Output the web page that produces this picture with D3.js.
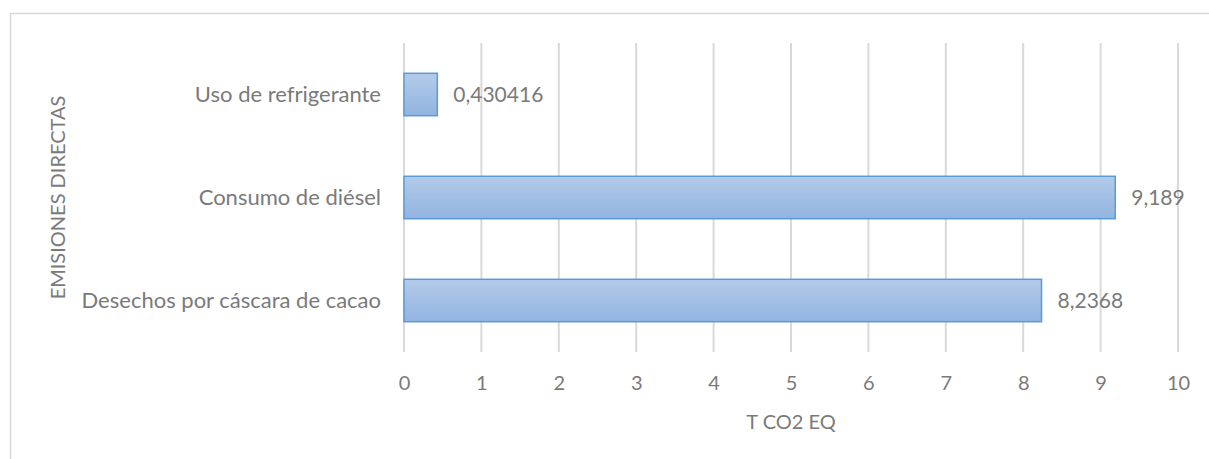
<!DOCTYPE html>
<html>
<head>
<meta charset="utf-8">
<script src="https://cdn.jsdelivr.net/npm/d3@7"></script>
<style>
  html, body { margin: 0; padding: 0; background: #fff; }
  svg { display: block; }
  text { font-family: Lato, "Open Sans", sans-serif; fill: #7a7a7a; }
</style>
</head>
<body>
<svg id="chart" width="1209" height="459"></svg>
<script>
// Direct emissions by source (t CO2 eq)
const categories = ["Uso de refrigerante", "Consumo de diésel", "Desechos por cáscara de cacao"];
const values = [0.430416, 9.189, 8.2368];
const valueLabels = ["0,430416", "9,189", "8,2368"];
const xTicks = [0, 1, 2, 3, 4, 5, 6, 7, 8, 9, 10];
const xTitle = "T CO2 EQ";
const yTitle = "EMISIONES DIRECTAS";

const svg = d3.select("#chart");
const W = 1209, H = 459;
const plot = { left: 404, right: 1178, top: 43, bottom: 352 };
const textColor = "#7a7a7a";

// chart frame
svg.append("path")
  .attr("d", `M${W + 5},13.5 H10.5 V${H + 5}`)
  .attr("fill", "none")
  .attr("stroke", "#d9d9d9")
  .attr("stroke-width", 1.5);

const x = d3.scaleLinear().domain([0, 10]).range([plot.left, plot.right]);
const y = d3.scaleBand().domain(categories)
  .range([plot.top, plot.bottom])
  .paddingInner(0.588).paddingOuter(0.294);

// bar fill gradient
const defs = svg.append("defs");
const grad = defs.append("linearGradient").attr("id", "barGrad")
  .attr("x1", 0).attr("y1", 0).attr("x2", 0).attr("y2", 1);
grad.append("stop").attr("offset", "0%").attr("stop-color", "#b3cbe9");
grad.append("stop").attr("offset", "100%").attr("stop-color", "#92b4e1");

// vertical gridlines
svg.append("g").selectAll("line").data(xTicks).join("line")
  .attr("x1", d => x(d)).attr("x2", d => x(d))
  .attr("y1", plot.top).attr("y2", plot.bottom)
  .attr("stroke", "#d9d9d9").attr("stroke-width", 2);

// x axis tick labels
const xAxis = d3.axisBottom(x).tickValues(xTicks).tickSize(0).tickPadding(0)
  .tickFormat(d => String(d));
const gx = svg.append("g").attr("transform", `translate(0,${plot.bottom})`).call(xAxis);
gx.select(".domain").remove();
gx.selectAll("text")
  .attr("y", 31).attr("dy", "0.35em")
  .style("font-size", "20px")
  .style("font-family", "Lato, 'Open Sans', sans-serif")
  .attr("fill", textColor);

// category labels
const yAxis = d3.axisLeft(y).tickSize(0).tickPadding(23);
const gy = svg.append("g").attr("transform", `translate(${plot.left},0)`).call(yAxis);
gy.select(".domain").remove();
gy.selectAll("text")
  .style("font-size", "22px")
  .style("font-family", "Lato, 'Open Sans', sans-serif")
  .attr("fill", textColor);

// bars
svg.append("g").selectAll("rect").data(values).join("rect")
  .attr("x", x(0))
  .attr("y", (d, i) => y(categories[i]))
  .attr("width", d => x(d) - x(0))
  .attr("height", y.bandwidth())
  .attr("fill", "url(#barGrad)")
  .attr("stroke", "#5b9bd5")
  .attr("stroke-width", 1.5);

// value labels
svg.append("g").selectAll("text").data(values).join("text")
  .attr("x", d => x(d) + 16)
  .attr("y", (d, i) => y(categories[i]) + y.bandwidth() / 2)
  .attr("dy", "0.35em")
  .style("font-size", "21px")
  .text((d, i) => valueLabels[i]);

// axis titles
svg.append("text")
  .attr("x", (plot.left + plot.right) / 2)
  .attr("y", 422).attr("dy", "0.35em")
  .attr("text-anchor", "middle")
  .style("font-size", "20px")
  .text(xTitle);

svg.append("text")
  .attr("transform", `translate(58,${(plot.top + plot.bottom) / 2}) rotate(-90)`)
  .attr("dy", "0.35em")
  .attr("text-anchor", "middle")
  .style("font-size", "20px")
  .text(yTitle);
</script>
</body>
</html>
